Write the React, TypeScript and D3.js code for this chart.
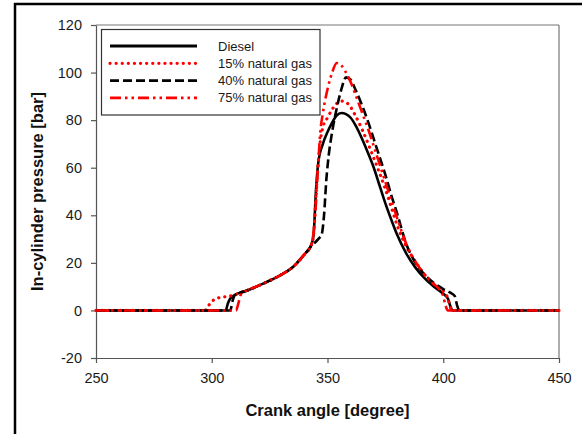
import { useEffect, useRef } from "react";
import * as d3 from "d3";

// crank angle [deg] and pressure [bar] for each run
const dieselAngle = [250, 306, 307, 308, 310, 315, 320, 325, 330, 335, 340, 343, 344, 345, 346, 348, 350, 352, 354, 356, 358, 360, 362, 365, 368, 370, 372, 375, 378, 380, 384, 388, 392, 396, 400, 402, 403, 404, 450];
const dieselP = [0, 0, 3, 5, 6.5, 8.3, 10.3, 12.5, 15, 18.2, 23.5, 27.5, 32, 50, 62, 70, 75, 79, 82, 83, 82.5, 81, 78, 72, 65, 60, 54, 45, 37, 32, 24, 18, 13.5, 10, 7, 5, 2, 0, 0];

const ng15Angle = [250, 297, 299, 301, 303, 306, 309, 312, 315, 320, 325, 330, 335, 340, 343, 344, 345, 346, 347, 348, 350, 352, 354, 356, 358, 360, 362, 365, 368, 370, 372, 375, 378, 380, 384, 388, 392, 396, 400, 402, 403, 404, 450];
const ng15P = [0, 0, 2.5, 4.5, 5.3, 5.8, 6.3, 7.3, 8.3, 10.3, 12.5, 15, 18.2, 23.5, 27.5, 32, 48, 62, 72, 77, 81, 84.5, 87, 88, 87.5, 85.5, 82, 76, 69, 64, 59, 51, 42, 36, 27, 20.5, 15, 11, 8, 5, 1.5, 0, 0];

const ng40Angle = [250, 308, 309, 310, 315, 320, 325, 330, 335, 340, 343, 346, 347.5, 348.5, 349.5, 350.5, 352, 354, 356, 358, 360, 362, 365, 368, 370, 372, 375, 378, 380, 384, 388, 392, 396, 400, 403, 405, 406, 407, 450];
const ng40P = [0, 0, 4, 6.5, 8.3, 10.3, 12.5, 15, 18.2, 23.5, 27, 30, 32, 40, 55, 65, 75, 85, 93, 98, 97, 93, 86, 78, 72, 66, 57, 47, 41, 28, 20, 15, 11.5, 9, 7.5, 6, 2, 0, 0];

const ng75Angle = [250, 310.5, 311.5, 312.5, 315, 320, 325, 330, 335, 340, 343, 344, 345, 346, 347, 348, 350, 352, 354, 356, 358, 360, 362, 365, 368, 370, 372, 375, 378, 380, 384, 388, 392, 396, 399, 400, 401, 402, 450];
const ng75P = [0, 0, 3, 6.5, 8.3, 10.3, 12.5, 15, 18.2, 23.5, 27.5, 33, 45, 62, 76, 83, 93, 100, 104, 103, 100, 96, 91, 83, 75, 69, 63, 54, 45, 39, 28, 20.5, 15, 11, 8, 6, 2, 0, 0];

const xTicks = [250, 300, 350, 400, 450];
const yTicks = [-20, 0, 20, 40, 60, 80, 100, 120];

const series = [
  { name: "Diesel", angle: dieselAngle, p: dieselP, color: "#000", dash: "none", cap: "butt" },
  { name: "15% natural gas", angle: ng15Angle, p: ng15P, color: "#ff0000", dash: "0.1 6", cap: "round" },
  { name: "40% natural gas", angle: ng40Angle, p: ng40P, color: "#000", dash: "9 4", cap: "butt" },
  { name: "75% natural gas", angle: ng75Angle, p: ng75P, color: "#ff0000", dash: "11 4 2.5 4 2.5 4", cap: "butt" },
];

const FONT = "'Liberation Sans', Arial, sans-serif";

const App = () => {
  const svgRef = useRef<SVGSVGElement | null>(null);

  useEffect(() => {
    const width = 582;
    const height = 434;
    const svg = d3.select(svgRef.current);
    svg.selectAll("*").remove();

    const x = d3.scaleLinear().domain([250, 450]).range([96, 559]);
    const y = d3.scaleLinear().domain([-20, 120]).range([358, 25]);

    svg.append("rect").attr("width", width).attr("height", height).attr("fill", "#fff");

    // outer frame (top + left)
    svg.append("line").attr("x1", 14).attr("x2", width).attr("y1", 4).attr("y2", 4)
      .attr("stroke", "#000").attr("stroke-width", 2.5);
    svg.append("line").attr("x1", 15).attr("x2", 15).attr("y1", 3).attr("y2", height)
      .attr("stroke", "#000").attr("stroke-width", 2.5);

    // plot box top/right
    svg.append("line").attr("x1", x(250)).attr("x2", x(450)).attr("y1", y(120)).attr("y2", y(120))
      .attr("stroke", "#777").attr("stroke-width", 1.2);
    svg.append("line").attr("x1", x(450)).attr("x2", x(450)).attr("y1", y(120)).attr("y2", y(-20))
      .attr("stroke", "#777").attr("stroke-width", 1.2);

    const styleAxis = (g: d3.Selection<SVGGElement, unknown, null, undefined>) => {
      g.select(".domain").attr("stroke", "#555").attr("stroke-width", 1.2);
      g.selectAll(".tick line").attr("stroke", "#555").attr("stroke-width", 1.2);
      g.selectAll("text").attr("fill", "#1a1a1a").style("font-family", FONT).style("font-size", "14.5px");
    };

    svg.append("g")
      .attr("transform", `translate(0,${y(-20)})`)
      .call(d3.axisBottom(x).tickValues(xTicks).tickFormat((d) => String(d)).tickSize(5).tickSizeOuter(0).tickPadding(10))
      .call(styleAxis);

    svg.append("g")
      .attr("transform", `translate(${x(250)},0)`)
      .call(d3.axisLeft(y).tickValues(yTicks).tickFormat((d) => String(d)).tickSize(5).tickSizeOuter(0).tickPadding(9))
      .call(styleAxis);

    // curves
    series.forEach((s) => {
      const pts = s.angle.map((a, i) => [a, s.p[i]] as [number, number]);
      const line = d3.line<[number, number]>()
        .x((d) => x(d[0]))
        .y((d) => y(d[1]))
        .curve(d3.curveMonotoneX);
      svg.append("path")
        .datum(pts)
        .attr("d", line)
        .attr("fill", "none")
        .attr("stroke", s.color)
        .attr("stroke-width", s.cap === "round" ? 3.2 : 2.6)
        .attr("stroke-dasharray", s.dash)
        .attr("stroke-linecap", s.cap)
        .attr("stroke-linejoin", "round");
    });

    // legend
    const lg = svg.append("g");
    lg.append("rect").attr("x", 101.5).attr("y", 29.5).attr("width", 218.5).attr("height", 85.5)
      .attr("fill", "#fff").attr("stroke", "#333").attr("stroke-width", 1.2);
    series.forEach((s, i) => {
      const ly = 46 + i * 17.3;
      lg.append("line").attr("x1", 110).attr("x2", 197).attr("y1", ly).attr("y2", ly)
        .attr("stroke", s.color)
        .attr("stroke-width", s.cap === "round" ? 3.2 : 2.8)
        .attr("stroke-dasharray", s.dash)
        .attr("stroke-linecap", s.cap);
      lg.append("text").attr("x", 218).attr("y", ly + 4.5)
        .attr("fill", "#1a1a1a").style("font-family", FONT).style("font-size", "13px")
        .text(s.name);
    });

    // axis titles
    svg.append("text")
      .attr("x", (x(250) + x(450)) / 2).attr("y", 416)
      .attr("text-anchor", "middle").attr("fill", "#111")
      .style("font-family", FONT).style("font-size", "16.5px").style("font-weight", "bold")
      .text("Crank angle [degree]");

    svg.append("text")
      .attr("transform", `translate(43,${(y(-20) + y(120)) / 2}) rotate(-90)`)
      .attr("text-anchor", "middle").attr("fill", "#111")
      .style("font-family", FONT).style("font-size", "16.5px").style("font-weight", "bold")
      .text("In-cylinder pressure [bar]");
  }, []);

  return (
    <svg
      ref={svgRef}
      width={582}
      height={434}
      style={{ position: "absolute", left: 0, top: 0, display: "block" }}
    />
  );
};

export default App;
